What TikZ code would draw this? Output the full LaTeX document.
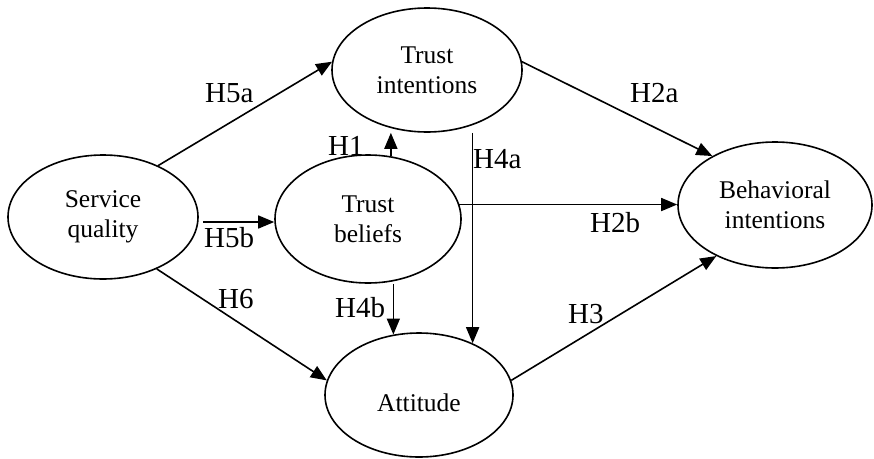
\documentclass[tikz,border=0pt]{standalone}
\usepackage{fontspec}
\setmainfont{Liberation Serif}
\usetikzlibrary{arrows.meta,shapes.geometric}
\begin{document}
\begin{tikzpicture}[x=1pt,y=-1pt,
  ell/.style={draw,ellipse,line width=1.6pt,inner sep=0pt,align=center,
    font=\fontsize{25.5}{30}\selectfont},
  arr/.style={line width=1.6pt,-{Triangle[length=16pt,width=13pt]}},
  lab/.style={anchor=base west,inner sep=0pt,font=\fontsize{29}{34}\selectfont}]
\useasboundingbox (0,0) rectangle (874,458);
\node[ell,minimum width=190pt,minimum height=124pt] (sq) at (103,217) {Service\\quality};
\node[ell,minimum width=190pt,minimum height=124pt] (ti) at (427,70) {Trust\\intentions};
\node[ell,minimum width=186pt,minimum height=128pt] (tb) at (368,219) {Trust\\beliefs};
\node[ell,minimum width=194pt,minimum height=126pt] (bi) at (775,205) {Behavioral\\intentions};
\node[ell,minimum width=188pt,minimum height=124pt,text height=32pt,text depth=0pt] (at) at (419,395) {Attitude};
% connectors
\draw[arr] (sq.43) -- (ti.175);
\draw[arr,shorten <=5pt] (sq.-3) -- (sq.-3 -| tb.west);
\draw[arr] (sq.-44) -- (at.171);
\draw[arr] (tb.70) -- (tb.70 |- ti.south);
\draw[arr] (at.44 |- ti.south) -- (at.44);
\draw[arr] (at.113 |- tb.south) -- (at.113);
\draw[arr] (tb.9) -- (tb.9 -| bi.west);
\draw[arr] (ti.5) -- (bi.142);
\draw[arr] (at.9) -- (bi.221);
% labels
\node[lab] (l5a) at (205,102) {H5a};
\node[lab] (l5b) at (204,247) {H5b};
\node[lab] (l6) at (218,308) {H6};
\node[lab] (l1) at (328,155) {H1};
\node[lab] (l4a) at (473,168) {H4a};
\node[lab] (l4b) at (335,317) {H4b};
\node[lab] (l2a) at (630,102) {H2a};
\node[lab] (l2b) at (590,232) {H2b};
\node[lab] (l3) at (568,323) {H3};
\end{tikzpicture}
\end{document}
